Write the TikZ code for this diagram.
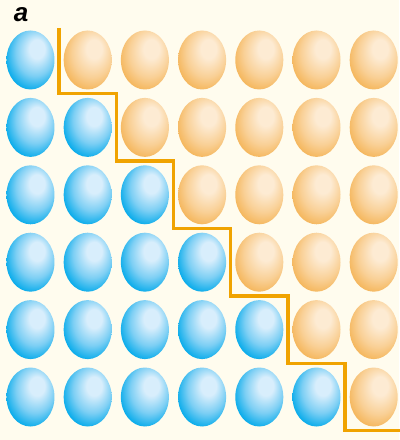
\documentclass[tikz,border=0pt]{standalone}
\usepackage{fontspec}
\setsansfont{Liberation Sans}
\usetikzlibrary{shapes.geometric}
\definecolor{paper}{HTML}{FFFCEE}
\definecolor{bluerim}{HTML}{00A9EA}
\definecolor{bluemid}{HTML}{7DCFF4}
\definecolor{bluelit}{HTML}{D8EEFC}
\definecolor{orangerim}{HTML}{F4B252}
\definecolor{orangemid}{HTML}{F9D096}
\definecolor{orangelit}{HTML}{FDEBD3}
\definecolor{stair}{HTML}{F0A300}
\pgfdeclareradialshading{bluecell}{\pgfpoint{8bp}{11bp}}{color(0bp)=(bluelit); color(8bp)=(bluelit); color(20bp)=(bluemid); color(31bp)=(bluerim); color(50bp)=(bluerim)}
\pgfdeclareradialshading{orangecell}{\pgfpoint{8bp}{11bp}}{color(0bp)=(orangelit); color(8bp)=(orangelit); color(21bp)=(orangemid); color(32bp)=(orangerim); color(50bp)=(orangerim)}

\begin{document}
\begin{tikzpicture}[x=57.2pt,y=-67.4pt,
  cell/.style={ellipse,inner sep=0pt,minimum width=48pt,minimum height=59pt},
  blue cell/.style={cell,shading=bluecell},
  orange cell/.style={cell,shading=orangecell},
  stair line/.style={stair,line width=3.3pt}]
 \useasboundingbox[fill=paper] (-0.533,-0.89) rectangle (6.443,5.638);
 % blue cells on and below the diagonal, orange above
 \foreach \r [evaluate=\r as \n using int(\r+1)] in {0,...,5}{
   \foreach \c in {0,...,\r}
     \node[blue cell] (e-\r-\c) at (\c,\r) {};
   \foreach \c in {\n,...,6}
     \node[orange cell] (e-\r-\c) at (\c,\r) {};}
 \draw[stair line] (0.5,-0.475)
   \foreach \k in {0,...,5}{ -- (\k+0.5,\k+0.5) -- (\k+1.5,\k+0.5)};
 \node[font=\sffamily\bfseries\itshape\fontsize{26}{26}\selectfont]
   (label) at (-0.166,-0.668) {a};
\end{tikzpicture}
\end{document}
